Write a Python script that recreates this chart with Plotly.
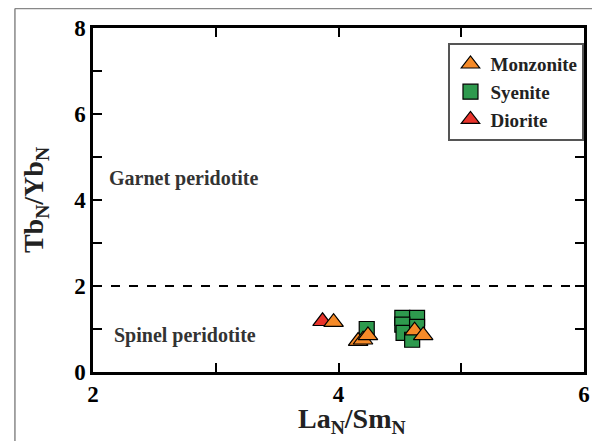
import plotly.graph_objects as go

# Data (La_N/Sm_N, Tb_N/Yb_N)
monzonite_x = [3.96, 4.16, 4.20, 4.24, 4.62, 4.69]
monzonite_y = [1.16, 0.72, 0.75, 0.85, 0.96, 0.85]
syenite_x = [4.23, 4.52, 4.64, 4.52, 4.53, 4.60, 4.64]
syenite_y = [1.00, 1.26, 1.26, 1.10, 0.91, 0.75, 1.05]
diorite_x = [3.87]
diorite_y = [1.18]

boundary_x = [2, 6]
boundary_y = [2, 2]

FONT = "Liberation Serif"

fig = go.Figure()
fig.add_trace(go.Scatter(x=boundary_x, y=boundary_y, mode="lines",
                         line=dict(color="black", width=2, dash="dash"),
                         showlegend=False, hoverinfo="skip"))
fig.add_trace(go.Scatter(x=syenite_x, y=syenite_y, mode="markers", name="Syenite", legendrank=2,
                         marker=dict(symbol="square", size=15, color="#2E9A4E",
                                     line=dict(color="black", width=1.2))))
fig.add_trace(go.Scatter(x=diorite_x, y=diorite_y, mode="markers", name="Diorite", legendrank=3,
                         marker=dict(symbol="triangle-up", size=17, color="#E8342C",
                                     line=dict(color="black", width=1.2))))
fig.add_trace(go.Scatter(x=monzonite_x, y=monzonite_y, mode="markers", name="Monzonite", legendrank=1,
                         marker=dict(symbol="triangle-up", size=17, color="#F58A28",
                                     line=dict(color="black", width=1.2))))

axis_common = dict(
    showgrid=False, zeroline=False, showline=True, linecolor="black", linewidth=2.5,
    ticks="inside", ticklen=9, tickwidth=2, tickcolor="black", mirror="allticks",
    tickfont=dict(family=FONT, size=23, color="black", weight="bold"),
    automargin=False,
)

fig.update_layout(
    width=592, height=433,
    margin=dict(l=85, r=16, t=20, b=69),
    paper_bgcolor="white", plot_bgcolor="white",
    xaxis=dict(range=[2, 6], tickvals=[2, 4, 6], ticktext=["2", "4", "6"],
               minor=dict(tickvals=[3, 5], ticks="inside", ticklen=9, tickwidth=2, tickcolor="black"),
               **axis_common),
    yaxis=dict(range=[0, 8], tickvals=[0, 2, 4, 6, 8],
               minor=dict(tickvals=[1, 3, 5, 7], ticks="inside", ticklen=9, tickwidth=2, tickcolor="black"),
               title=dict(text="Tb<sub>N</sub>/Yb<sub>N</sub>", standoff=23,
                          font=dict(family=FONT, size=28, color="#222", weight="bold")),
               **axis_common),
    legend=dict(x=0.724, y=0.956, xanchor="left", yanchor="top",
                bordercolor="#555", borderwidth=2, bgcolor="white",
                font=dict(family=FONT, size=19, color="#222", weight="bold"),
                itemwidth=30, tracegroupgap=0),
    showlegend=True,
    annotations=[
        dict(x=2.745, y=4.5, xref="x", yref="y", text="Garnet peridotite", showarrow=False,
             font=dict(family=FONT, size=20, color="#333", weight="bold")),
        dict(x=2.75, y=0.84, xref="x", yref="y", text="Spinel peridotite", showarrow=False,
             font=dict(family=FONT, size=20, color="#333", weight="bold")),
        dict(x=0.528, y=-0.085, xref="paper", yref="paper", xanchor="center", yanchor="top",
             text="La<sub>N</sub>/Sm<sub>N</sub>", showarrow=False,
             font=dict(family=FONT, size=28, color="#222", weight="bold")),
    ],
    shapes=[
        dict(type="line", xref="paper", yref="paper", x0=-0.159, x1=-0.159, y0=1.057, y1=-0.25,
             line=dict(color="#888", width=1.5)),
        dict(type="line", xref="paper", yref="paper", x0=-0.159, x1=1.05, y0=1.057, y1=1.057,
             line=dict(color="#888", width=1.5)),
    ],
)

fig.write_html("out.html")
